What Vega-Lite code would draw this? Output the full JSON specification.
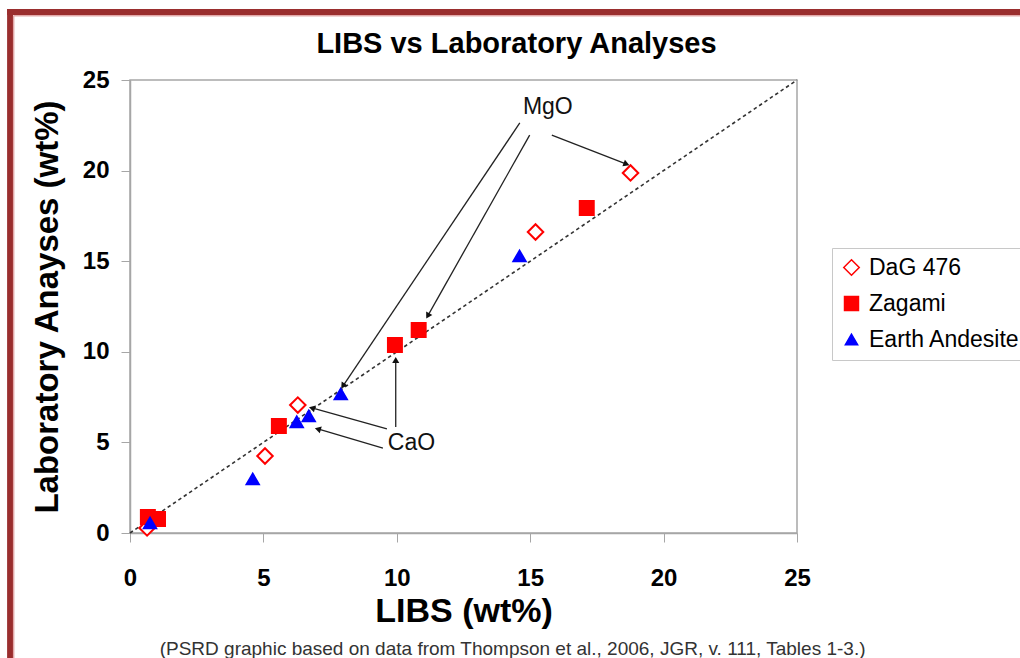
{
  "$schema": "https://vega.github.io/schema/vega-lite/v6.json",
  "width": 667,
  "height": 453,
  "autosize": {"type": "none"},
  "padding": {"left": 130, "top": 80, "right": 223, "bottom": 125},
  "background": "white",
  "title": {"text": "LIBS vs Laboratory Analyses", "fontSize": 29, "fontWeight": "bold", "font": "Liberation Sans", "color": "#000", "anchor": "middle", "frame": "group", "baseline": "alphabetic", "dx": 53, "offset": -76},
  "config": {
    "font": "Liberation Sans",
    "view": {"stroke": "#a6a6a6", "strokeWidth": 1.5},
    "axis": {"grid": false, "labelFlush": false, "domainColor": "#a6a6a6", "domainWidth": 1.5, "tickColor": "#a6a6a6", "tickSize": 9, "tickCount": 5, "labelFontSize": 24, "labelFontWeight": "bold", "labelColor": "#000", "titleFontSize": 33, "titleFontWeight": "bold", "titleColor": "#000", "labelFont": "Liberation Sans", "titleFont": "Liberation Sans"},
    "axisX": {"labelPadding": 24, "titlePadding": 4, "titleFontSize": 34},
    "axisY": {"labelPadding": 12, "titlePadding": 18},
    "legend": {"orient": "none", "legendX": 702, "legendY": 168, "strokeColor": "#c8c8c8", "padding": 8, "labelFontSize": 23, "labelFont": "Liberation Sans", "labelColor": "#000", "rowPadding": 12, "labelOffset": 6}
  },
  "datasets": {
    "points": [
      {"sample": "DaG 476", "libs": 18.76, "lab": 19.87},
      {"sample": "DaG 476", "libs": 15.2, "lab": 16.61},
      {"sample": "DaG 476", "libs": 6.29, "lab": 7.06},
      {"sample": "DaG 476", "libs": 5.06, "lab": 4.25},
      {"sample": "DaG 476", "libs": 0.64, "lab": 0.28},
      {"sample": "Zagami", "libs": 17.12, "lab": 17.94},
      {"sample": "Zagami", "libs": 10.82, "lab": 11.2},
      {"sample": "Zagami", "libs": 9.93, "lab": 10.38},
      {"sample": "Zagami", "libs": 5.58, "lab": 5.9},
      {"sample": "Zagami", "libs": 0.67, "lab": 0.88},
      {"sample": "Zagami", "libs": 1.05, "lab": 0.77},
      {"sample": "Earth Andesite", "libs": 14.6, "lab": 15.29},
      {"sample": "Earth Andesite", "libs": 7.9, "lab": 7.67},
      {"sample": "Earth Andesite", "libs": 6.7, "lab": 6.46},
      {"sample": "Earth Andesite", "libs": 6.25, "lab": 6.13},
      {"sample": "Earth Andesite", "libs": 4.6, "lab": 2.98},
      {"sample": "Earth Andesite", "libs": 0.75, "lab": 0.55}
    ],
    "arrows": [
      {"label": "MgO", "x": 15.81, "y": 21.96, "x2": 18.61, "y2": 20.36, "angle": 111},
      {"label": "MgO", "x": 14.98, "y": 21.96, "x2": 11.16, "y2": 11.98, "angle": 209},
      {"label": "MgO", "x": 14.61, "y": 22.63, "x2": 7.98, "y2": 8.11, "angle": 214},
      {"label": "CaO", "x": 9.63, "y": 5.74, "x2": 6.82, "y2": 6.9, "angle": 286},
      {"label": "CaO", "x": 9.48, "y": 4.69, "x2": 7.04, "y2": 5.74, "angle": 286},
      {"label": "CaO", "x": 9.96, "y": 5.85, "x2": 9.96, "y2": 9.55, "angle": 0}
    ],
    "labels": [
      {"text": "MgO", "x": 15.66, "y": 23.51},
      {"text": "CaO", "x": 10.55, "y": 4.97}
    ],
    "diag": [{"v": 0}, {"v": 25}]
  },
  "layer": [
    {
      "data": {"values": [{}]},
      "mark": {"type": "rule", "color": "#9a2e2e", "strokeWidth": 6, "clip": false},
      "encoding": {
        "x": {"datum": -4.494, "type": "quantitative", "title": "LIBS (wt%)"},
        "y": {"datum": 28.92, "type": "quantitative", "title": "Laboratory Anayses (wt%)"},
        "y2": {"datum": -7.5}
      }
    },
    {
      "data": {"values": [{}]},
      "mark": {"type": "rule", "color": "#9a2e2e", "strokeWidth": 6, "clip": false},
      "encoding": {
        "x": {"datum": -4.607, "type": "quantitative", "title": "LIBS (wt%)"},
        "x2": {"datum": 34},
        "y": {"datum": 28.753, "type": "quantitative", "title": "Laboratory Anayses (wt%)"}
      }
    },
    {
      "data": {"values": [{}]},
      "mark": {"type": "rule", "color": "#e2a9a9", "strokeWidth": 1.5, "clip": false},
      "encoding": {
        "x": {"datum": -4.36, "type": "quantitative", "title": "LIBS (wt%)"},
        "y": {"datum": 28.55, "type": "quantitative", "title": "Laboratory Anayses (wt%)"},
        "y2": {"datum": -7.5}
      }
    },
    {
      "data": {"values": [{}]},
      "mark": {"type": "rule", "color": "#e2a9a9", "strokeWidth": 1.5, "clip": false},
      "encoding": {
        "x": {"datum": -4.36, "type": "quantitative", "title": "LIBS (wt%)"},
        "x2": {"datum": 34},
        "y": {"datum": 28.55, "type": "quantitative", "title": "Laboratory Anayses (wt%)"}
      }
    },
    {
      "data": {"name": "diag"},
      "mark": {"type": "line", "color": "#333", "strokeWidth": 1.6, "strokeDash": [3.5, 3]},
      "encoding": {
        "x": {"field": "v", "type": "quantitative", "scale": {"domain": [0, 25], "nice": false}, "title": "LIBS (wt%)"},
        "y": {"field": "v", "type": "quantitative", "scale": {"domain": [0, 25], "nice": false}, "title": "Laboratory Anayses (wt%)"}
      }
    },
    {
      "data": {"name": "points"},
      "mark": {"type": "point", "filled": true, "strokeWidth": 2, "opacity": 1},
      "encoding": {
        "x": {"field": "libs", "type": "quantitative", "title": "LIBS (wt%)"},
        "y": {"field": "lab", "type": "quantitative", "title": "Laboratory Anayses (wt%)"},
        "shape": {"field": "sample", "type": "nominal", "scale": {"domain": ["DaG 476", "Zagami", "Earth Andesite"], "range": ["diamond", "square", "triangle-up"]}, "title": null},
        "fill": {"field": "sample", "type": "nominal", "scale": {"domain": ["DaG 476", "Zagami", "Earth Andesite"], "range": ["white", "#ff0000", "#0000ff"]}, "title": null},
        "stroke": {"field": "sample", "type": "nominal", "scale": {"domain": ["DaG 476", "Zagami", "Earth Andesite"], "range": ["#ff0000", "#ff0000", "#0000ff"]}, "title": null},
        "size": {"field": "sample", "type": "nominal", "scale": {"domain": ["DaG 476", "Zagami", "Earth Andesite"], "range": [240, 150, 155]}, "title": null}
      }
    },
    {
      "data": {"name": "arrows"},
      "mark": {"type": "rule", "color": "#222", "strokeWidth": 1.3},
      "encoding": {
        "x": {"field": "x", "type": "quantitative", "title": "LIBS (wt%)"},
        "y": {"field": "y", "type": "quantitative", "title": "Laboratory Anayses (wt%)"},
        "x2": {"field": "x2"},
        "y2": {"field": "y2"}
      }
    },
    {
      "data": {"name": "arrows"},
      "mark": {"type": "point", "shape": "triangle-up", "filled": true, "color": "#111", "size": 50, "opacity": 1},
      "encoding": {
        "x": {"field": "x2", "type": "quantitative", "title": "LIBS (wt%)"},
        "y": {"field": "y2", "type": "quantitative", "title": "Laboratory Anayses (wt%)"},
        "angle": {"field": "angle", "type": "quantitative", "scale": null}
      }
    },
    {
      "data": {"name": "labels"},
      "mark": {"type": "text", "fontSize": 23, "font": "Liberation Sans", "color": "#111", "baseline": "middle", "align": "center"},
      "encoding": {
        "x": {"field": "x", "type": "quantitative", "title": "LIBS (wt%)"},
        "y": {"field": "y", "type": "quantitative", "title": "Laboratory Anayses (wt%)"},
        "text": {"field": "text"}
      }
    },
    {
      "data": {"values": [{}]},
      "mark": {"type": "text", "fontSize": 19, "font": "Liberation Sans", "color": "#333", "baseline": "middle", "align": "center", "text": "(PSRD graphic based on data from Thompson et al., 2006, JGR, v. 111, Tables 1-3.)"},
      "encoding": {
        "x": {"datum": 14.34, "type": "quantitative", "title": "LIBS (wt%)"},
        "y": {"datum": -6.4, "type": "quantitative", "title": "Laboratory Anayses (wt%)"}
      }
    }
  ]
}
